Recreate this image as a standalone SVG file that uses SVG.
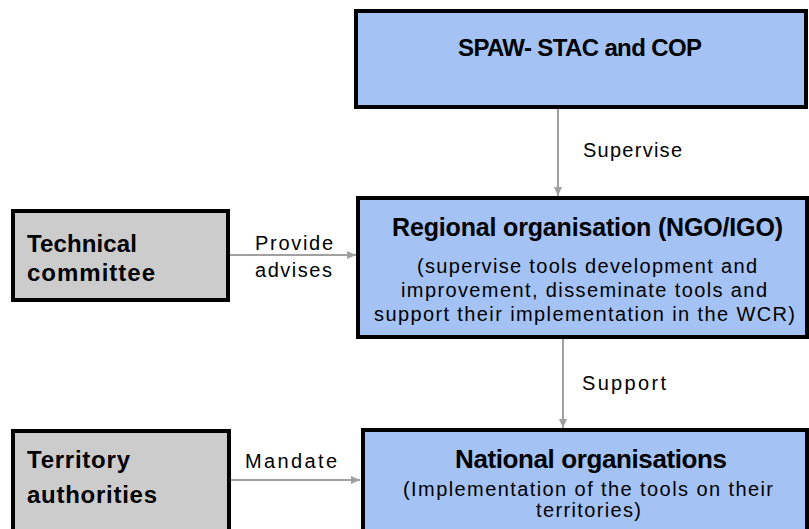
<svg xmlns="http://www.w3.org/2000/svg" width="809" height="529" viewBox="0 0 809 529">
<style>
.blue{fill:#a4c2f4;stroke:#000;stroke-width:4}
.grey{fill:#cccccc;stroke:#000;stroke-width:4}
.b{font-family:"Liberation Sans",Arial,sans-serif;font-weight:bold;fill:#000}
.r{font-family:"Liberation Sans",Arial,sans-serif;fill:#000;font-size:20px}
.c{stroke:#a0a0a0;stroke-width:2;fill:none;marker-end:url(#ah)}
</style>
<defs>
<marker id="ah" markerWidth="10" markerHeight="10" refX="9" refY="5" orient="auto" markerUnits="userSpaceOnUse">
<path d="M0,1 L9,5 L0,9 Z" fill="#a0a0a0"/>
</marker>
</defs>
<rect width="809" height="529" fill="#fff"/>
<g id="connectors">
<line class="c" x1="558" y1="108" x2="558" y2="196"/>
<line class="c" x1="229" y1="255" x2="356" y2="255"/>
<line class="c" x1="563" y1="339" x2="563" y2="428"/>
<line class="c" x1="230" y1="480" x2="360" y2="480"/>
<text class="r" x="583" y="157" textLength="99" lengthAdjust="spacing">Supervise</text>
<text class="r" x="255" y="250" textLength="78" lengthAdjust="spacing">Provide</text>
<text class="r" x="255" y="277" textLength="77" lengthAdjust="spacing">advises</text>
<text class="r" x="582" y="390" textLength="84" lengthAdjust="spacing">Support</text>
<text class="r" x="245" y="468" textLength="92" lengthAdjust="spacing">Mandate</text>
</g>
<g id="spaw">
<rect class="blue" x="356" y="11" width="450" height="96"/>
<text class="b" x="458" y="56" font-size="24" textLength="244" lengthAdjust="spacing">SPAW- STAC and COP</text>
</g>
<g id="regional">
<rect class="blue" x="358" y="198" width="449" height="139"/>
<text class="b" x="392" y="236" font-size="25" textLength="391" lengthAdjust="spacing">Regional organisation (NGO/IGO)</text>
<text class="r" x="417" y="273" textLength="340" lengthAdjust="spacing">(supervise tools development and</text>
<text class="r" x="401" y="297" textLength="366" lengthAdjust="spacing">improvement, disseminate tools and</text>
<text class="r" x="374" y="321" textLength="421" lengthAdjust="spacing">support their implementation in the WCR)</text>
</g>
<g id="technical">
<rect class="grey" x="13" y="211" width="215" height="89"/>
<text class="b" x="27" y="252" font-size="24" textLength="110" lengthAdjust="spacing">Technical</text>
<text class="b" x="27" y="281" font-size="24" textLength="128" lengthAdjust="spacing">committee</text>
</g>
<g id="territory">
<rect class="grey" x="13" y="431" width="216" height="104"/>
<text class="b" x="27" y="468" font-size="24" textLength="103" lengthAdjust="spacing">Territory</text>
<text class="b" x="27" y="503" font-size="24" textLength="130" lengthAdjust="spacing">authorities</text>
</g>
<g id="national">
<rect class="blue" x="363" y="430" width="444" height="105"/>
<text class="b" x="455" y="468" font-size="26" textLength="272" lengthAdjust="spacing">National organisations</text>
<text class="r" x="403" y="496" textLength="370" lengthAdjust="spacing">(Implementation of the tools on their</text>
<text class="r" x="536" y="517" textLength="105" lengthAdjust="spacing">territories)</text>
</g>
</svg>
